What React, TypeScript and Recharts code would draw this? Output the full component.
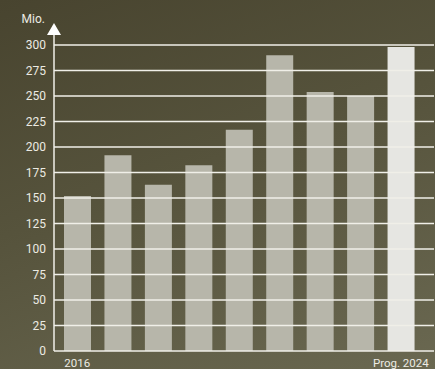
import { BarChart, Bar, XAxis, YAxis, ReferenceLine, Cell } from "recharts";

const years = ["2016", "2017", "2018", "2019", "2020", "2021", "2022", "2023", "Prog. 2024"];
const values = [152, 192, 163, 182, 217, 290, 254, 250, 298];
const yTicks = [0, 25, 50, 75, 100, 125, 150, 175, 200, 225, 250, 275, 300];
const shownLabels = ["2016", "Prog. 2024"];

const data = years.map((year, i) => ({ year, value: values[i] }));

const TEXT = "#ecebe3";
const LINE = "#f0efe8";

const AxisArrow = (props: any) => {
  const { x, y, width } = props.viewBox;
  const ax = x + width;
  return (
    <g>
      <line x1={ax} y1={y} x2={ax} y2={y - 12} stroke={LINE} strokeWidth={1.5} />
      <polygon points={`${ax - 7},${y - 10} ${ax + 7},${y - 10} ${ax},${y - 22}`} fill="#ffffff" />
      <text x={ax - 9} y={y - 22} textAnchor="end" fill={TEXT} fontSize={12}>
        Mio.
      </text>
    </g>
  );
};

export default function App() {
  return (
    <div
      style={{
        position: "absolute",
        left: 0,
        top: 0,
        width: 435,
        height: 369,
        background: "linear-gradient(160deg, #48442f 0%, #56533c 45%, #6a6851 100%)",
        fontFamily: "Roboto, sans-serif",
      }}
    >
      <BarChart width={435} height={369} data={data} margin={{ top: 45, right: 1, bottom: 0, left: 0 }} barSize={27}>
        <XAxis
          dataKey="year"
          axisLine={{ stroke: LINE, strokeWidth: 1.5 }}
          tickLine={false}
          height={18}
          padding={{ left: 3, right: 13 }}
          interval={0}
          tick={{ fill: TEXT, fontSize: 11.5 }}
          tickFormatter={(v: string) => (shownLabels.includes(v) ? v : "")}
        />
        <YAxis
          domain={[0, 300]}
          ticks={yTicks}
          width={54}
          axisLine={{ stroke: LINE, strokeWidth: 1.5 }}
          tickLine={false}
          tick={{ fill: TEXT, fontSize: 12 }}
          label={{ content: AxisArrow }}
        />
        <Bar dataKey="value" isAnimationActive={false}>
          {data.map((_, i) => (
            <Cell key={i} fill={i === data.length - 1 ? "#e6e6e2" : "#b7b6aa"} />
          ))}
        </Bar>
        {yTicks.slice(1).map((t) => (
          <ReferenceLine key={t} y={t} stroke={LINE} strokeWidth={1.5} />
        ))}
      </BarChart>
    </div>
  );
}
